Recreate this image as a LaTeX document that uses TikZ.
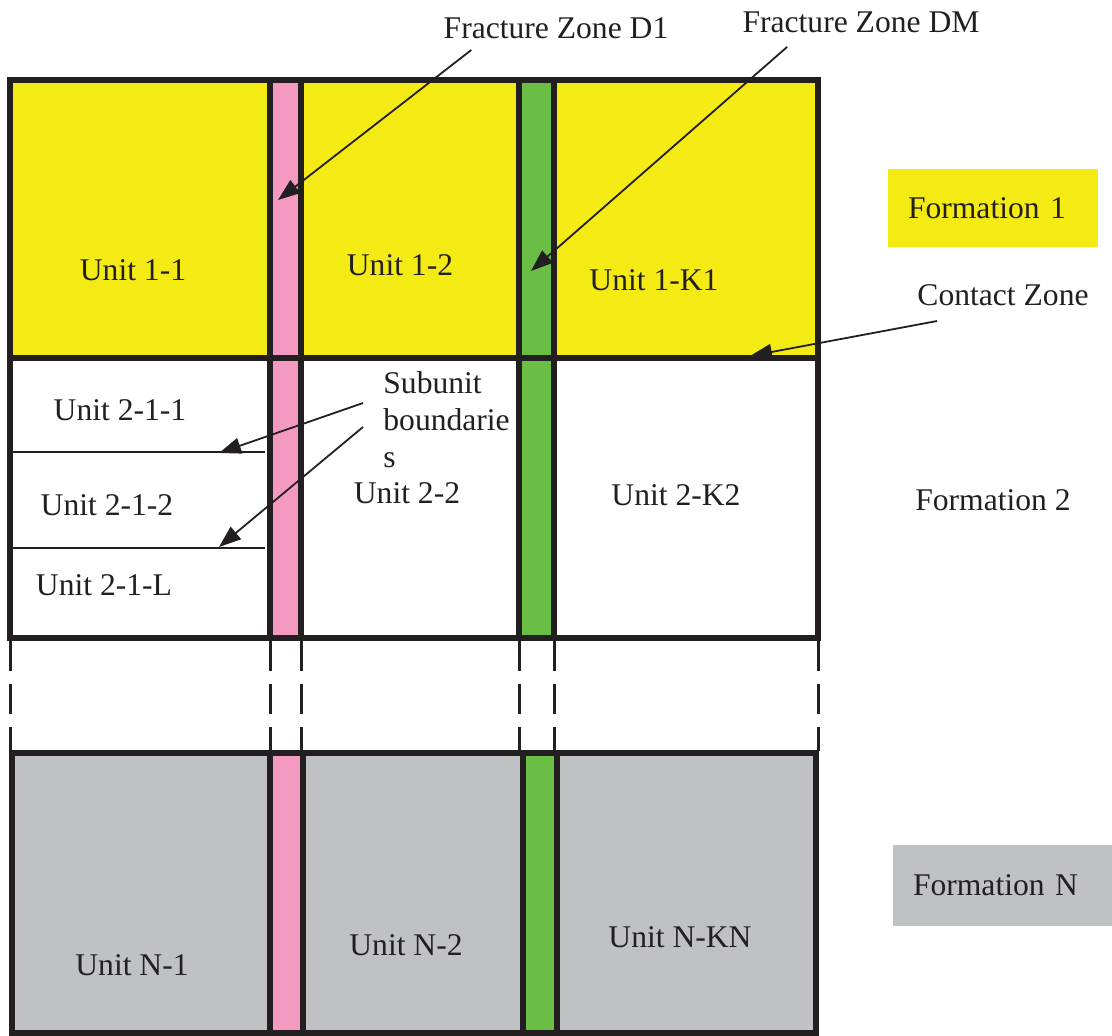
\documentclass[tikz,border=0pt]{standalone}
\usepackage{fontspec}
\setmainfont{Liberation Serif}
\usetikzlibrary{arrows.meta}
\usepackage{xcolor}
\definecolor{fyellow}{HTML}{F5EB14}
\definecolor{fpink}{HTML}{F49AC1}
\definecolor{fgreen}{HTML}{6ABD45}
\definecolor{fgrey}{HTML}{C0C1C4}
\definecolor{ink}{HTML}{231F20}

\begin{document}
\begin{tikzpicture}[x=0.5pt,y=-0.5pt]
  \tikzstyle{every node}=[font=\fontsize{15.8}{18.5}\selectfont, text=ink, inner sep=0pt]
  \tikzstyle{frame}=[draw=ink, line width=3pt]
  \tikzstyle{thin}=[draw=ink, line width=1pt]
  \tikzstyle{gap}=[draw=ink, line width=1.5pt, dash pattern=on 15pt off 6.5pt]
  \tikzstyle{pointer}=[draw=ink, line width=0.9pt, -{Triangle[length=11pt,width=8pt]}]
  \tikzstyle{fmbox}=[inner xsep=10pt, minimum height=39pt, align=left]
  \useasboundingbox (0,0) rectangle (1112,1035);

  \fill[fyellow] (10,80) rectangle (818,358);
  \fill[fpink] (270,80) rectangle (301,638);
  \fill[fgreen] (519,80) rectangle (554,638);
  \draw[frame] (10,80) rectangle (818,638);
  \draw[frame] (10,358) -- (818,358);
  \foreach \x in {270,301,519,554}
    \draw[frame] (\x,80) -- (\x,638);
  \draw[thin] (10,452) -- (265,452);
  \draw[thin] (10,548) -- (265,548);

  \foreach \x in {10,270,301,519,554,818}
    \draw[gap] (\x,641) -- (\x,751);

  \fill[fgrey] (12,753) rectangle (816,1033);
  \fill[fpink] (270,753) rectangle (303,1033);
  \fill[fgreen] (523,753) rectangle (557,1033);
  \draw[frame] (12,753) rectangle (816,1033);
  \foreach \x in {270,303,523,557}
    \draw[frame] (\x,753) -- (\x,1033);

  \node (u11) at (133,270) {Unit 1-1};
  \node (u12) at (400,265) {Unit 1-2};
  \node (u1k) at (654,280) {Unit 1-K1};
  \node (u211) at (120,410) {Unit 2-1-1};
  \node (u212) at (107,505) {Unit 2-1-2};
  \node (u21l) at (104,585) {Unit 2-1-L};
  \node (u22) at (407,493) {Unit 2-2};
  \node (u2k) at (676,495) {Unit 2-K2};
  \node (un1) at (132,965) {Unit N-1};
  \node (un2) at (406,945) {Unit N-2};
  \node (unk) at (680,937) {Unit N-KN};

  \node[fmbox, fill=fyellow, text width=85pt] (form1) at (993,208) {Formation 1};
  \node (form2) at (993,500) {Formation 2};
  \node[fmbox, fill=fgrey, text width=89.5pt, minimum height=40.5pt] (formn) at (1002.5,885.5) {Formation N};

  \node (zd1) at (556,28) {Fracture Zone D1};
  \node (zdm) at (861,22) {Fracture Zone DM};
  \node (cz) at (1003,295) {Contact Zone};
  \node[anchor=north west, align=left] (sub) at (383,371) {Subunit\\boundarie\\s};

  \coordinate (d1tip) at (278,200);
  \coordinate (dmtip) at (531,271);
  \coordinate (cztip) at (750,356);
  \coordinate (sb1tip) at (219,453);
  \coordinate (sb2tip) at (219,547);

  \draw[pointer] ([shift={(28,11)}]zd1.south west) -- (d1tip);
  \draw[pointer] ([shift={(45,14)}]zdm.south west) -- (dmtip);
  \draw[pointer] ([shift={(20,15)}]cz.south west) -- (cztip);
  \draw[pointer] ([shift={(-20,32)}]sub.north west) -- (sb1tip);
  \draw[pointer] ([shift={(-20,56)}]sub.north west) -- (sb2tip);
\end{tikzpicture}
\end{document}
